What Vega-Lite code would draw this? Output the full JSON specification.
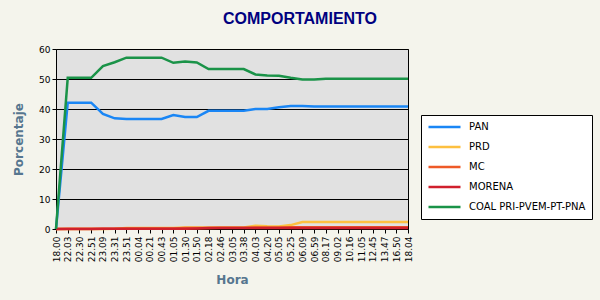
{
  "$schema": "https://vega.github.io/schema/vega-lite/v6.json",
  "width": 352,
  "height": 180,
  "autosize": {"type": "none"},
  "padding": {"left": 56, "top": 49, "right": 192, "bottom": 71},
  "background": "#f4f4ec",
  "config": {
    "view": {"fill": "#e1e1e1", "stroke": "black", "strokeWidth": 1},
    "font": "Liberation Sans"
  },
  "title": {
    "text": "COMPORTAMIENTO",
    "font": "Liberation Sans",
    "fontSize": 16,
    "fontWeight": "bold",
    "color": "#000080",
    "anchor": "middle",
    "dx": 68,
    "offset": 18
  },
  "datasets": {
    "t": [
      {"hora": "18.00", "PAN": 0, "PRD": 0, "MC": 0, "MORENA": 0, "COAL": 0},
      {"hora": "22.03", "PAN": 42.1, "PRD": 0, "MC": 0.1, "MORENA": 0, "COAL": 50.4},
      {"hora": "22.30", "PAN": 42.1, "PRD": 0, "MC": 0.1, "MORENA": 0, "COAL": 50.4},
      {"hora": "22.51", "PAN": 42.1, "PRD": 0, "MC": 0.1, "MORENA": 0, "COAL": 50.4},
      {"hora": "23.09", "PAN": 38.4, "PRD": 0, "MC": 0.1, "MORENA": 0.1, "COAL": 54.3},
      {"hora": "23.31", "PAN": 36.9, "PRD": 0.1, "MC": 0.1, "MORENA": 0.1, "COAL": 55.6},
      {"hora": "23.51", "PAN": 36.7, "PRD": 0.3, "MC": 0.2, "MORENA": 0.1, "COAL": 57.1},
      {"hora": "00.04", "PAN": 36.7, "PRD": 0.3, "MC": 0.2, "MORENA": 0.1, "COAL": 57.1},
      {"hora": "00.21", "PAN": 36.7, "PRD": 0.3, "MC": 0.2, "MORENA": 0.1, "COAL": 57.1},
      {"hora": "00.43", "PAN": 36.7, "PRD": 0.3, "MC": 0.2, "MORENA": 0.1, "COAL": 57.1},
      {"hora": "01.05", "PAN": 38.0, "PRD": 0.3, "MC": 0.2, "MORENA": 0.1, "COAL": 55.4},
      {"hora": "01.30", "PAN": 37.3, "PRD": 0.5, "MC": 0.3, "MORENA": 0.1, "COAL": 55.8},
      {"hora": "01.50", "PAN": 37.3, "PRD": 0.5, "MC": 0.3, "MORENA": 0.2, "COAL": 55.5},
      {"hora": "02.18", "PAN": 39.4, "PRD": 0.5, "MC": 0.3, "MORENA": 0.3, "COAL": 53.3},
      {"hora": "02.46", "PAN": 39.4, "PRD": 0.5, "MC": 0.4, "MORENA": 0.3, "COAL": 53.3},
      {"hora": "03.05", "PAN": 39.4, "PRD": 0.5, "MC": 0.4, "MORENA": 0.3, "COAL": 53.3},
      {"hora": "03.38", "PAN": 39.4, "PRD": 0.5, "MC": 0.4, "MORENA": 0.3, "COAL": 53.3},
      {"hora": "04.03", "PAN": 40.0, "PRD": 1.1, "MC": 0.5, "MORENA": 0.3, "COAL": 51.5},
      {"hora": "04.20", "PAN": 40.0, "PRD": 0.9, "MC": 0.5, "MORENA": 0.3, "COAL": 51.2},
      {"hora": "05.05", "PAN": 40.6, "PRD": 0.8, "MC": 0.5, "MORENA": 0.3, "COAL": 51.1},
      {"hora": "05.25", "PAN": 41.0, "PRD": 1.3, "MC": 0.6, "MORENA": 0.3, "COAL": 50.4},
      {"hora": "06.09", "PAN": 41.0, "PRD": 2.3, "MC": 0.6, "MORENA": 0.3, "COAL": 49.8},
      {"hora": "06.59", "PAN": 40.8, "PRD": 2.3, "MC": 0.6, "MORENA": 0.3, "COAL": 49.8},
      {"hora": "08.17", "PAN": 40.8, "PRD": 2.3, "MC": 0.6, "MORENA": 0.3, "COAL": 50.1},
      {"hora": "09.02", "PAN": 40.8, "PRD": 2.3, "MC": 0.6, "MORENA": 0.3, "COAL": 50.1},
      {"hora": "10.16", "PAN": 40.8, "PRD": 2.3, "MC": 0.6, "MORENA": 0.3, "COAL": 50.1},
      {"hora": "11.05", "PAN": 40.8, "PRD": 2.3, "MC": 0.6, "MORENA": 0.3, "COAL": 50.1},
      {"hora": "12.45", "PAN": 40.8, "PRD": 2.3, "MC": 0.6, "MORENA": 0.3, "COAL": 50.1},
      {"hora": "13.47", "PAN": 40.8, "PRD": 2.3, "MC": 0.6, "MORENA": 0.3, "COAL": 50.1},
      {"hora": "16.50", "PAN": 40.8, "PRD": 2.3, "MC": 0.6, "MORENA": 0.3, "COAL": 50.1},
      {"hora": "18.04", "PAN": 40.8, "PRD": 2.3, "MC": 0.6, "MORENA": 0.3, "COAL": 50.1}
    ]
  },
  "data": {"name": "t"},
  "transform": [
    {"fold": ["PAN", "PRD", "MC", "MORENA", "COAL"], "as": ["key", "valor"]},
    {"lookup": "key", "from": {"data": {"values": [
      {"key": "PAN", "partido": "PAN", "orden": 1},
      {"key": "PRD", "partido": "PRD", "orden": 2},
      {"key": "MC", "partido": "MC", "orden": 3},
      {"key": "MORENA", "partido": "MORENA", "orden": 4},
      {"key": "COAL", "partido": "COAL PRI-PVEM-PT-PNA", "orden": 5}
    ]}, "key": "key", "fields": ["partido", "orden"]}}
  ],
  "mark": {"type": "line", "strokeWidth": 2.5, "interpolate": "linear"},
  "encoding": {
    "x": {
      "field": "hora",
      "type": "nominal",
      "sort": null,
      "scale": {"type": "point", "padding": 0},
      "axis": {
        "title": "Hora",
        "titleFont": "DejaVu Sans",
        "titleFontSize": 12,
        "titleFontWeight": "bold",
        "titleColor": "#56768f",
        "titlePadding": 13,
        "labelAngle": 270,
        "labelAlign": "right",
        "labelBaseline": "middle",
        "labelFont": "DejaVu Sans",
        "labelFontSize": 9,
        "labelColor": "black",
        "labelPadding": 3,
        "tickColor": "black",
        "tickSize": 4,
        "domain": false,
        "grid": false,
        "labelOverlap": false
      }
    },
    "y": {
      "field": "valor",
      "type": "quantitative",
      "scale": {"domain": [0, 60], "nice": false},
      "axis": {
        "title": "Porcentaje",
        "titleFont": "DejaVu Sans",
        "titleFontSize": 12,
        "titleFontWeight": "bold",
        "titleColor": "#56768f",
        "titlePadding": 13,
        "values": [0, 10, 20, 30, 40, 50, 60],
        "labelFont": "DejaVu Sans",
        "labelFontSize": 9,
        "labelColor": "black",
        "tickColor": "black",
        "tickSize": 4,
        "domain": false,
        "grid": true,
        "gridColor": "black",
        "gridWidth": 1
      }
    },
    "color": {
      "field": "partido",
      "type": "nominal",
      "sort": ["PAN", "PRD", "MC", "MORENA", "COAL PRI-PVEM-PT-PNA"],
      "scale": {
        "domain": ["PAN", "PRD", "MC", "MORENA", "COAL PRI-PVEM-PT-PNA"],
        "range": ["#1a86f5", "#fdc040", "#ee5a28", "#d0202c", "#1a9348"]
      },
      "legend": {
        "title": null,
        "orient": "none",
        "legendX": 365,
        "legendY": 66,
        "fillColor": "white",
        "strokeColor": "black",
        "padding": 6,
        "symbolType": "stroke",
        "symbolSize": 1024,
        "symbolStrokeWidth": 2.5,
        "clipHeight": 12,
        "rowPadding": 8,
        "labelFont": "DejaVu Sans",
        "labelFontSize": 10,
        "labelColor": "black",
        "labelOffset": 7
      }
    },
    "order": {"field": "orden"}
  }
}
